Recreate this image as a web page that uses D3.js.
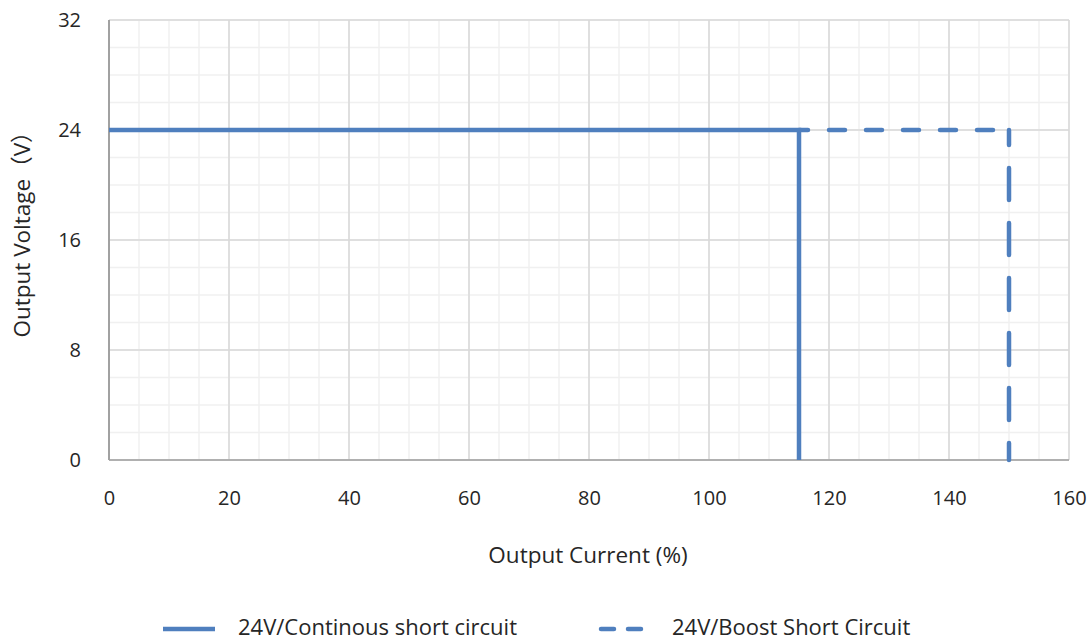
<!DOCTYPE html>
<html><head><meta charset="utf-8">
<script src="https://cdn.jsdelivr.net/npm/d3@7"></script>
<style>body{margin:0;background:#fff}svg{display:block}text{font-family:"Open Sans","Noto Sans CJK SC",sans-serif;fill:#262626}</style>
</head><body>
<svg id="c" width="1091" height="641"></svg>
<script>
const xTicks=[0,20,40,60,80,100,120,140,160];
const yTicks=[0,8,16,24,32];
const continuousX=[0,115,115];
const continuousY=[24,24,0];
const boostX=[115,150,150];
const boostY=[24,24,0];
const seriesNames=["24V/Continous short circuit","24V/Boost Short Circuit"];
const xTitle="Output Current (%)";
const yTitle="Output Voltage（V）";

const svg=d3.select("#c");
const L=109,R=1069,T=20,B=460;
const x=d3.scaleLinear().domain([0,160]).range([L,R]);
const y=d3.scaleLinear().domain([0,32]).range([B,T]);
const color="#4f7fbe";

const minorX=d3.range(0,161,5), minorY=d3.range(0,33,2);
svg.append("g").selectAll("line").data(minorX).join("line")
 .attr("x1",d=>x(d)).attr("x2",d=>x(d)).attr("y1",T).attr("y2",B).attr("stroke","#f0f0f0").attr("stroke-width",1.5);
svg.append("g").selectAll("line").data(minorY).join("line")
 .attr("y1",d=>y(d)).attr("y2",d=>y(d)).attr("x1",L).attr("x2",R).attr("stroke","#f0f0f0").attr("stroke-width",1.5);
svg.append("g").selectAll("line").data(xTicks).join("line")
 .attr("x1",d=>x(d)).attr("x2",d=>x(d)).attr("y1",T).attr("y2",B).attr("stroke","#d9d9d9").attr("stroke-width",1.5);
svg.append("g").selectAll("line").data(yTicks).join("line")
 .attr("y1",d=>y(d)).attr("y2",d=>y(d)).attr("x1",L).attr("x2",R).attr("stroke","#d9d9d9").attr("stroke-width",1.5);
// axes
svg.append("line").attr("x1",L).attr("x2",L).attr("y1",T).attr("y2",B).attr("stroke","#8c8c8c").attr("stroke-width",1.5);
svg.append("line").attr("x1",L).attr("x2",R).attr("y1",B).attr("y2",B).attr("stroke","#a0a0a0").attr("stroke-width",1.5);

const xAxis=svg.append("g").attr("transform",`translate(0,${B})`).call(d3.axisBottom(x).tickValues(xTicks).tickSize(0).tickPadding(31));
const yAxis=svg.append("g").attr("transform",`translate(${L},0)`).call(d3.axisLeft(y).tickValues(yTicks).tickSize(0).tickPadding(28));
[xAxis,yAxis].forEach(a=>{a.select(".domain").remove();a.selectAll("text").attr("font-size",20).attr("fill","#1a1a1a").attr("font-family","'Open Sans',sans-serif");});

const line=d3.line().x(d=>x(d[0])).y(d=>y(d[1]));
svg.append("path").datum(continuousX.map((v,i)=>[v,continuousY[i]])).attr("d",line)
 .attr("fill","none").attr("stroke",color).attr("stroke-width",4.5);
const boost=boostX.map((v,i)=>[v,boostY[i]]);
// horizontal part
svg.append("path").datum(boost.slice(0,2)).attr("d",line)
 .attr("fill","none").attr("stroke",color).attr("stroke-width",4.5).attr("stroke-dasharray","16 21").attr("stroke-dashoffset",7).attr("stroke-linecap","round");
// vertical part
svg.append("path").datum(boost.slice(1)).attr("d",line)
 .attr("fill","none").attr("stroke",color).attr("stroke-width",4.5).attr("stroke-dasharray","32 23").attr("stroke-dashoffset",17).attr("stroke-linecap","round");

svg.append("text").attr("x",588).attr("y",563).attr("text-anchor","middle").attr("font-size",22.5).text(xTitle);
svg.append("text").attr("transform","translate(30,229) rotate(-90)").attr("text-anchor","middle").attr("font-size",22.5).text(yTitle);

// legend
const lg=svg.append("g");
lg.append("line").attr("x1",163).attr("x2",215).attr("y1",629).attr("y2",629).attr("stroke",color).attr("stroke-width",4.5);
lg.append("text").attr("x",238).attr("y",635).attr("font-size",22).text(seriesNames[0]);
lg.append("line").attr("x1",601).attr("x2",651).attr("y1",629).attr("y2",629).attr("stroke",color).attr("stroke-width",4.5).attr("stroke-dasharray","13 14").attr("stroke-linecap","round");
lg.append("text").attr("x",672).attr("y",635).attr("font-size",22).text(seriesNames[1]);
</script>
</body></html>
